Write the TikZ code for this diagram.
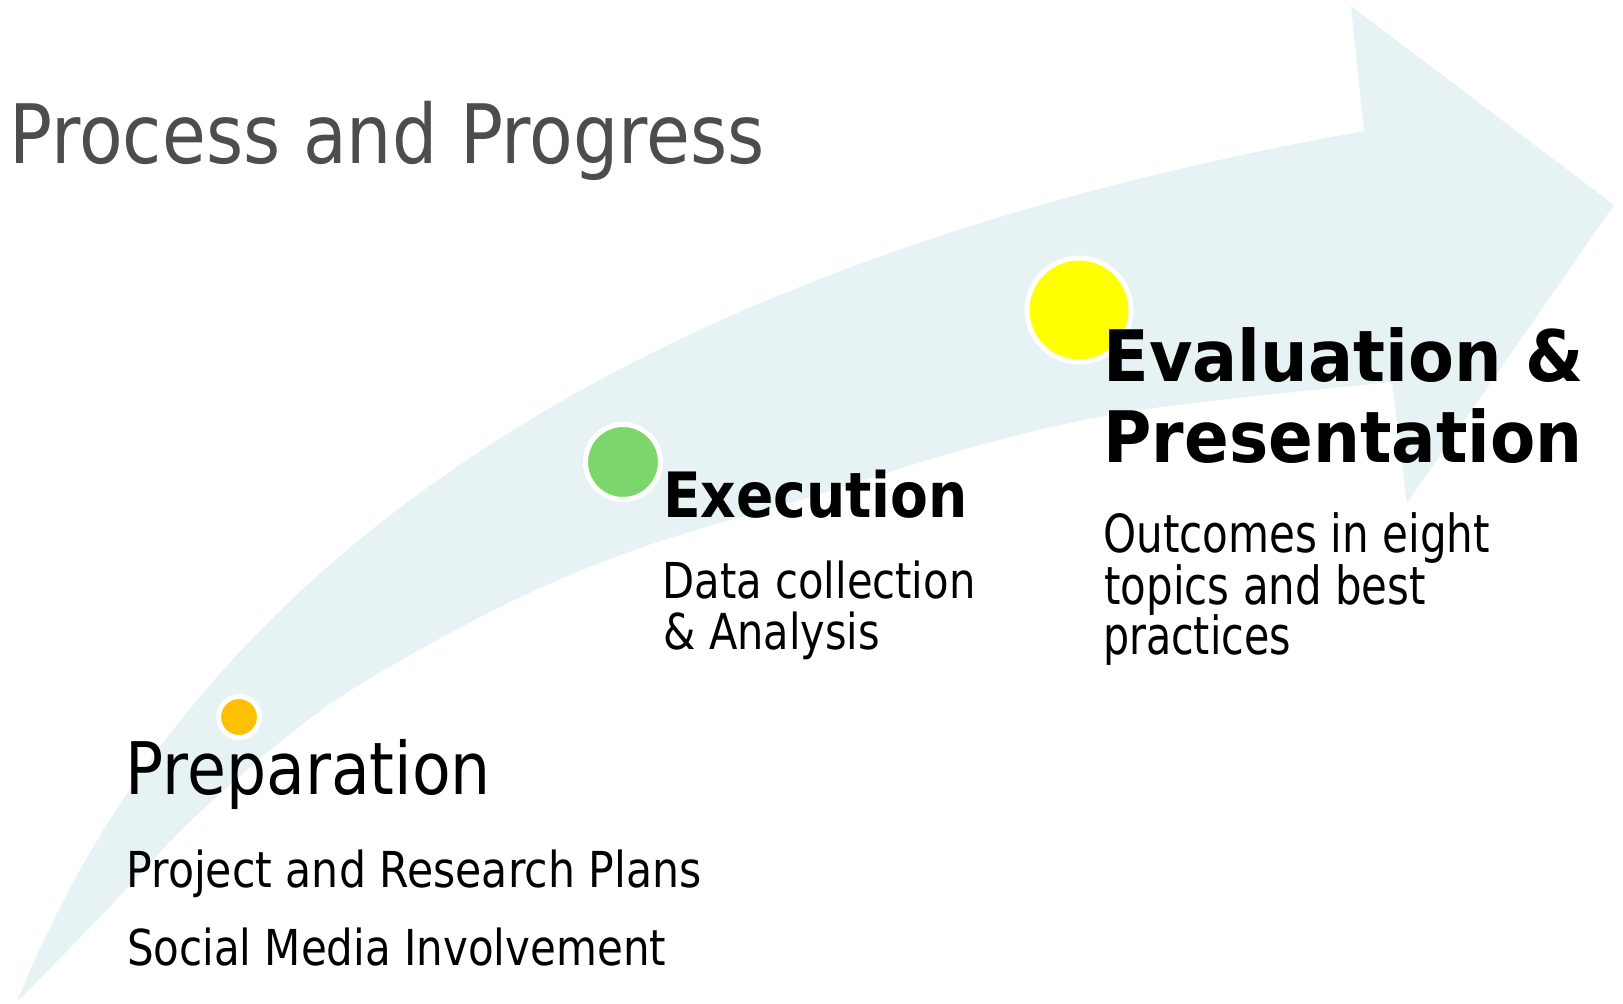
\documentclass[tikz,border=0pt]{standalone}
\usepackage{fontspec}
\usepackage{graphicx}
\setmainfont{DejaVu Sans}
\definecolor{bandfill}{HTML}{E6F2F4}
\definecolor{titlegray}{HTML}{4D4D4D}
\definecolor{dotyellow}{HTML}{FFFF00}
\definecolor{dotgreen}{HTML}{7DD66B}
\definecolor{dotorange}{HTML}{FFC000}
% set a line of text to a given width, keeping its natural height
\newcommand{\fitline}[2]{\resizebox{#1}{\height}{#2}}
\tikzset{
  txt/.style={anchor=base west, inner sep=0pt, outer sep=0pt},
  dot/.style={circle, draw=white, line width=5pt, inner sep=0pt, minimum size=#1}
}
\begin{document}
\begin{tikzpicture}[x=1pt, y=-1pt]
\useasboundingbox (0,0) rectangle (1623,1004);

% curved band with arrow head
\fill[bandfill]
  (17,1002) .. controls (197.7,550) and (646.7,259.7) .. (1364,131)
  -- (1351,6) -- (1614,205) -- (1407,503) -- (1392,382)
  -- plot[smooth, tension=0.55] coordinates {(1392,382) (1140,410) (980,445) (800,500) (640,548) (500,607) (333,702) (200,812) (100,917) (17,1002)}
  -- cycle;

% stage markers
\node[dot=104pt, fill=dotyellow] (evaldot) at (1079,310) {};
\node[dot=75pt, fill=dotgreen] (execdot) at (623,462) {};
\node[dot=41pt, fill=dotorange] (prepdot) at (239,717) {};

% title
\node[txt, text=titlegray] (title) at (9.6,163.5) {\fontsize{82}{82}\selectfont\fitline{755pt}{Process and Progress}};

% preparation
\node[txt] (prephead) at (125.5,794) {\fontsize{72.5}{72.5}\selectfont\fitline{365.5pt}{Preparation}};
\node[txt] (prepline1) at (126.5,887) {\fontsize{49.5}{49.5}\selectfont\fitline{575pt}{Project and Research Plans}};
\node[txt] (prepline2) at (127,965.8) {\fontsize{49.5}{49.5}\selectfont\fitline{539pt}{Social Media Involvement}};

% execution
\node[txt] (exechead) at (663,517.5) {\fontsize{62.5}{62.5}\selectfont\bfseries\fitline{305pt}{Execution}};
\node[txt] (execline1) at (662.5,598.3) {\fontsize{49.5}{49.5}\selectfont\fitline{313pt}{Data collection}};
\node[txt] (execline2) at (663.5,649) {\fontsize{49.5}{49.5}\selectfont\fitline{216.5pt}{\& Analysis}};

% evaluation and presentation
\node[txt] (evalhead1) at (1103.5,381) {\fontsize{71}{71}\selectfont\bfseries\fitline{480pt}{Evaluation \&}};
\node[txt] (evalhead2) at (1103.5,462.7) {\fontsize{71}{71}\selectfont\bfseries\fitline{479pt}{Presentation}};
\node[txt] (evalline1) at (1103.5,552.7) {\fontsize{52.5}{52.5}\selectfont\fitline{386.5pt}{Outcomes in eight}};
\node[txt] (evalline2) at (1104.5,604.5) {\fontsize{52.5}{52.5}\selectfont\fitline{321.5pt}{topics and best}};
\node[txt] (evalline3) at (1103,654) {\fontsize{52.5}{52.5}\selectfont\fitline{188pt}{practices}};
\end{tikzpicture}
\end{document}
